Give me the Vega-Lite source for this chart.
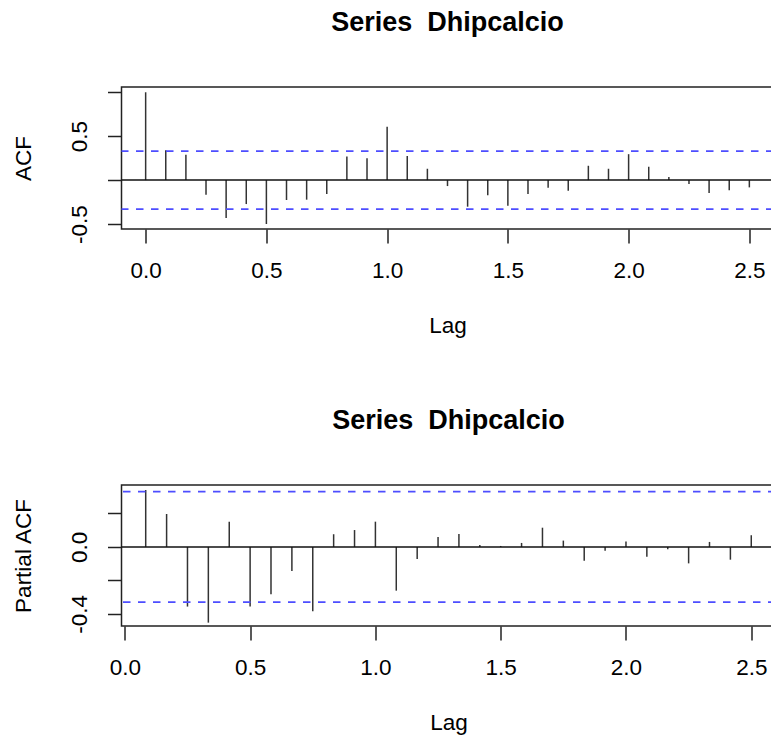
{
  "$schema": "https://vega.github.io/schema/vega-lite/v6.json",
  "padding": {"left": 11.5, "top": 8, "right": 0, "bottom": 0},
  "bounds": "flush",
  "spacing": 256,
  "config": {
    "font": "Liberation Sans",
    "view": {"stroke": "#222", "strokeWidth": 1.5},
    "axis": {"grid": false, "domain": false, "tickColor": "#222", "tickWidth": 1.5, "tickSize": 14, "labelFontSize": 22.5, "titleFontSize": 22.5, "titleFontWeight": "normal", "labelColor": "#000", "titleColor": "#000", "labelFlush": false, "labelOverlap": false, "labelBound": false},
    "title": {"fontSize": 27, "fontWeight": "bold", "anchor": "middle", "frame": "group", "offset": 50, "baseline": "alphabetic", "color": "#000"}
  },
  "vconcat": [
    {
      "width": 652,
      "height": 142,
      "title": {"text": "Series\u00a0\u00a0Dhipcalcio"},
      "data": {"values": [
        {"lag": 0, "acf": 1.0}, {"lag": 0.0833, "acf": 0.34}, {"lag": 0.1667, "acf": 0.288}, {"lag": 0.25, "acf": -0.167},
        {"lag": 0.3333, "acf": -0.432}, {"lag": 0.4167, "acf": -0.273}, {"lag": 0.5, "acf": -0.5}, {"lag": 0.5833, "acf": -0.227},
        {"lag": 0.6667, "acf": -0.223}, {"lag": 0.75, "acf": -0.159}, {"lag": 0.8333, "acf": 0.269}, {"lag": 0.9167, "acf": 0.25},
        {"lag": 1.0, "acf": 0.606}, {"lag": 1.0833, "acf": 0.273}, {"lag": 1.1667, "acf": 0.129}, {"lag": 1.25, "acf": -0.068},
        {"lag": 1.3333, "acf": -0.303}, {"lag": 1.4167, "acf": -0.174}, {"lag": 1.5, "acf": -0.292}, {"lag": 1.5833, "acf": -0.159},
        {"lag": 1.6667, "acf": -0.087}, {"lag": 1.75, "acf": -0.121}, {"lag": 1.8333, "acf": 0.163}, {"lag": 1.9167, "acf": 0.129},
        {"lag": 2.0, "acf": 0.295}, {"lag": 2.0833, "acf": 0.152}, {"lag": 2.1667, "acf": 0.034}, {"lag": 2.25, "acf": -0.045},
        {"lag": 2.3333, "acf": -0.148}, {"lag": 2.4167, "acf": -0.117}, {"lag": 2.5, "acf": -0.083}
      ]},
      "layer": [
        {
          "mark": {"type": "rule", "color": "#333", "strokeWidth": 1.5},
          "encoding": {
            "x": {"field": "lag", "type": "quantitative", "scale": {"domain": [-0.1, 2.6], "nice": false, "zero": false},
                  "axis": {"title": "Lag", "values": [0, 0.5, 1, 1.5, 2, 2.5], "format": ".1f", "labelPadding": 16.5, "titlePadding": 32}},
            "y": {"field": "acf", "type": "quantitative", "scale": {"domain": [-0.557, 1.06], "nice": false, "zero": false},
                  "axis": {"title": "ACF", "values": [-0.5, 0, 0.5, 1], "labelExpr": "datum.value == 0.5 ? '0.5' : (datum.value == -0.5 ? '-0.5' : '')", "labelAngle": 270, "labelAlign": "center", "labelBaseline": "alphabetic", "labelPadding": 21, "titlePadding": 33}},
            "y2": {"datum": 0}
          }
        },
        {
          "data": {"values": [{"acf": 0}]},
          "mark": {"type": "rule", "color": "#111", "strokeWidth": 1.5},
          "encoding": {"y": {"field": "acf", "type": "quantitative"}}
        },
        {
          "data": {"values": [{"acf": 0.33}, {"acf": -0.33}]},
          "mark": {"type": "rule", "color": "#4d4dff", "strokeWidth": 1.8, "strokeDash": [7.5, 7.5]},
          "encoding": {"y": {"field": "acf", "type": "quantitative"}}
        }
      ]
    },
    {
      "width": 654,
      "height": 141,
      "title": {"text": "Series\u00a0\u00a0Dhipcalcio"},
      "data": {"values": [
        {"lag": 0.0833, "pacf": 0.34}, {"lag": 0.1667, "pacf": 0.197}, {"lag": 0.25, "pacf": -0.356}, {"lag": 0.3333, "pacf": -0.452},
        {"lag": 0.4167, "pacf": 0.151}, {"lag": 0.5, "pacf": -0.356}, {"lag": 0.5833, "pacf": -0.283}, {"lag": 0.6667, "pacf": -0.143},
        {"lag": 0.75, "pacf": -0.384}, {"lag": 0.8333, "pacf": 0.076}, {"lag": 0.9167, "pacf": 0.101}, {"lag": 1.0, "pacf": 0.151},
        {"lag": 1.0833, "pacf": -0.261}, {"lag": 1.1667, "pacf": -0.072}, {"lag": 1.25, "pacf": 0.06}, {"lag": 1.3333, "pacf": 0.078},
        {"lag": 1.4167, "pacf": 0.012}, {"lag": 1.5, "pacf": 0.006}, {"lag": 1.5833, "pacf": 0.024}, {"lag": 1.6667, "pacf": 0.115},
        {"lag": 1.75, "pacf": 0.038}, {"lag": 1.8333, "pacf": -0.082}, {"lag": 1.9167, "pacf": -0.022}, {"lag": 2.0, "pacf": 0.032},
        {"lag": 2.0833, "pacf": -0.058}, {"lag": 2.1667, "pacf": -0.014}, {"lag": 2.25, "pacf": -0.098}, {"lag": 2.3333, "pacf": 0.03},
        {"lag": 2.4167, "pacf": -0.076}, {"lag": 2.5, "pacf": 0.07}
      ]},
      "layer": [
        {
          "mark": {"type": "rule", "color": "#333", "strokeWidth": 1.5},
          "encoding": {
            "x": {"field": "lag", "type": "quantitative", "scale": {"domain": [-0.0133, 2.5967], "nice": false, "zero": false},
                  "axis": {"title": "Lag", "values": [0, 0.5, 1, 1.5, 2, 2.5], "format": ".1f", "labelPadding": 16.5, "titlePadding": 32}},
            "y": {"field": "pacf", "type": "quantitative", "scale": {"domain": [-0.472, 0.37], "nice": false, "zero": false},
                  "axis": {"title": "Partial ACF", "values": [-0.4, -0.2, 0, 0.2], "labelExpr": "datum.value == 0 ? '0.0' : (datum.value < -0.3 ? '-0.4' : '')", "labelAngle": 270, "labelAlign": "center", "labelBaseline": "alphabetic", "labelPadding": 21, "titlePadding": 33}},
            "y2": {"datum": 0}
          }
        },
        {
          "data": {"values": [{"pacf": 0}]},
          "mark": {"type": "rule", "color": "#111", "strokeWidth": 1.5},
          "encoding": {"y": {"field": "pacf", "type": "quantitative"}}
        },
        {
          "data": {"values": [{"pacf": 0.33}, {"pacf": -0.33}]},
          "mark": {"type": "rule", "color": "#4d4dff", "strokeWidth": 1.8, "strokeDash": [7.5, 7.5]},
          "encoding": {"y": {"field": "pacf", "type": "quantitative"}}
        }
      ]
    }
  ]
}
